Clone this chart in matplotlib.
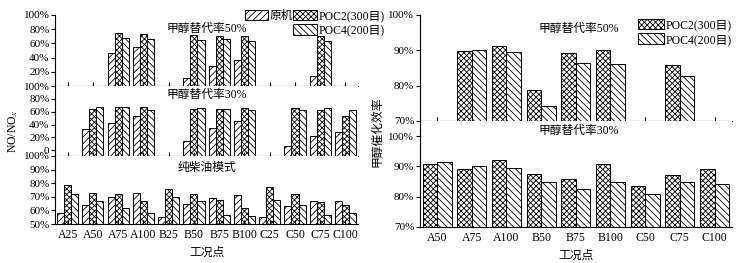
import numpy as np
import matplotlib
matplotlib.use("Agg")
import matplotlib.pyplot as plt
from matplotlib.patches import Patch

plt.rcParams['font.family'] = ['Liberation Serif', 'Noto Sans CJK SC']
plt.rcParams['mathtext.fontset'] = 'stix'
plt.rcParams['hatch.linewidth'] = 0.6
plt.rcParams['font.size'] = 8

nan = np.nan

# left chart: NO/NOx
conds_left = ['A25', 'A50', 'A75', 'A100', 'B25', 'B50', 'B75', 'B100',
              'C25', 'C50', 'C75', 'C100']
orig_50 = [nan, nan, 46, 55, nan, 11, 28, 37, nan, nan, 14, nan]
poc2_50 = [nan, nan, 74, 73, nan, 72, 71, 70, nan, nan, 70, nan]
poc4_50 = [nan, nan, 67, 66, nan, 65, 66, 64, nan, nan, 64, nan]
orig_30 = [nan, 33, 43, 54, nan, 15, 34, 45, nan, 7, 22, 28]
poc2_30 = [nan, 64, 68, 68, nan, 64, 64, 65, nan, 66, 62, 53]
poc4_30 = [nan, 67, 67, 63, nan, 66, 64, 63, nan, 63, 65, 62]
orig_d = [58, 64, 70, 73, 55, 65, 69, 71, 55, 63, 67, 67]
poc2_d = [79, 73, 72, 67, 76, 72, 68, 62, 77, 72, 66, 64]
poc4_d = [72, 67, 62, 58, 70, 67, 57, 56, 68, 64, 57, 58]

# right chart: methanol catalytic efficiency
conds_right = ['A50', 'A75', 'A100', 'B50', 'B75', 'B100', 'C50', 'C75', 'C100']
poc2_r50 = [nan, 89.8, 91.2, 78.7, 89.2, 90.1, nan, 85.9, nan]
poc4_r50 = [nan, 90.1, 89.6, 74.2, 86.5, 86.1, nan, 82.8, nan]
poc2_r30 = [90.7, 89.3, 92.1, 87.6, 85.7, 90.7, 83.6, 87.3, 89.3]
poc4_r30 = [91.6, 90.2, 89.4, 84.9, 82.7, 84.9, 80.8, 84.7, 84.3]

labels = ['原机', 'POC2(300目)', 'POC4(200目)']
hatches = ['/////', 'xxxxxx', '\\\\\\\\\\']

fig = plt.figure(figsize=(7.43, 2.63), dpi=100)


def style(ax, n):
    ax.spines['top'].set_visible(False)
    ax.spines['right'].set_visible(False)
    ax.set_xlim(-0.5, n - 0.5)
    ax.set_xticks(np.arange(n))
    ax.tick_params(axis='x', direction='in', length=3, width=0.8)
    ax.tick_params(axis='y', direction='out', length=3, width=0.8, pad=1)


def bars(ax, series, width, base):
    x = np.arange(len(series[0]))
    k = len(series)
    for i, vals in enumerate(series):
        v = np.array(vals, dtype=float)
        off = (i - (k - 1) / 2) * width
        h = hatches[i] if k == 3 else hatches[i + 1]
        ax.bar(x + off, v - base, width, bottom=base, facecolor='white',
               edgecolor='black', linewidth=0.7, hatch=h)


# ---- left chart
L, W = 0.074, 0.408
ax1 = fig.add_axes([L, 0.673, W, 0.27])
ax2 = fig.add_axes([L, 0.407, W, 0.266])
ax3 = fig.add_axes([L, 0.148, W, 0.259])
nl = len(conds_left)
for ax in (ax1, ax2, ax3):
    style(ax, nl)

bars(ax1, [orig_50, poc2_50, poc4_50], 0.28, 0)
ax1.set_ylim(0, 100)
ax1.set_yticks([20, 40, 60, 80, 100])
ax1.set_yticklabels(['20%', '40%', '60%', '80%', '100%'])
ax1.set_xticklabels([])
ax1.text(0.5, 0.8, '甲醇替代率50%', transform=ax1.transAxes, ha='center', va='center', fontsize=8.5)

bars(ax2, [orig_30, poc2_30, poc4_30], 0.28, -9)
ax2.set_ylim(-9, 100)
ax2.set_yticks([0, 20, 40, 60, 80, 100])
ax2.set_yticklabels(['0', '20%', '40%', '60%', '80%', '100%'])
ax2.set_xticklabels([])
ax2.text(0.5, 0.87, '甲醇替代率30%', transform=ax2.transAxes, ha='center', va='center', fontsize=8.5)

bars(ax3, [orig_d, poc2_d, poc4_d], 0.28, 50)
ax3.set_ylim(50, 100)
ax3.set_yticks([50, 60, 70, 80, 90, 100])
ax3.set_yticklabels(['50%', '60%', '70%', '80%', '90%', '100%'])
ax3.set_xticklabels(conds_left, fontsize=8.5)
ax3.set_xlabel('工况点', fontsize=8.5, labelpad=4)
ax3.text(0.5, 0.82, '纯柴油模式', transform=ax3.transAxes, ha='center', va='center', fontsize=8.5)

fig.text(0.018, 0.5, 'NO/NO$_x$', rotation=90, ha='center', va='center', fontsize=8.5)

h = [Patch(facecolor='white', edgecolor='black', hatch=hatches[i], linewidth=0.7) for i in range(3)]
blank = Patch(facecolor='none', edgecolor='none')
fig.legend([h[0], blank, h[1], h[2]], [labels[0], '', labels[1], labels[2]],
           loc='upper left', bbox_to_anchor=(0.318, 0.995), ncol=2, frameon=False,
           fontsize=8.5, handlelength=2.0, handleheight=1.0, handletextpad=0.1,
           columnspacing=0.05, labelspacing=0.2, borderpad=0.2)

# ---- right chart
R, RW = 0.565, 0.42
ax4 = fig.add_axes([R, 0.54, RW, 0.403])
ax5 = fig.add_axes([R, 0.137, RW, 0.403])
nr = len(conds_right)
for ax in (ax4, ax5):
    style(ax, nr)

bars(ax4, [poc2_r50, poc4_r50], 0.42, 70)
ax4.set_ylim(70, 100)
ax4.set_yticks([70, 80, 90, 100])
ax4.set_yticklabels(['70%', '80%', '90%', '100%'])
ax4.set_xticklabels([])
ax4.text(0.51, 0.87, '甲醇替代率50%', transform=ax4.transAxes, ha='center', va='center', fontsize=8.5)

bars(ax5, [poc2_r30, poc4_r30], 0.42, 70)
ax5.set_ylim(70, 105)
ax5.set_yticks([70, 80, 90, 100])
ax5.set_yticklabels(['70%', '80%', '90%', '100%'])
ax5.set_xticklabels(conds_right, fontsize=8.5)
ax5.set_xlabel('工况点', fontsize=8.5, labelpad=4)
ax5.text(0.51, 0.91, '甲醇替代率30%', transform=ax5.transAxes, ha='center', va='center', fontsize=8.5)

fig.text(0.508, 0.5, '甲醇催化效率', rotation=90, ha='center', va='center', fontsize=8.5)

fig.legend([h[1], h[2]], [labels[1], labels[2]],
           loc='upper left', bbox_to_anchor=(0.848, 0.96), ncol=1, frameon=False,
           fontsize=8.5, handlelength=2.2, handleheight=1.0, handletextpad=0.1,
           labelspacing=0.2, borderpad=0.2)

fig.savefig('out.png', dpi=100)
